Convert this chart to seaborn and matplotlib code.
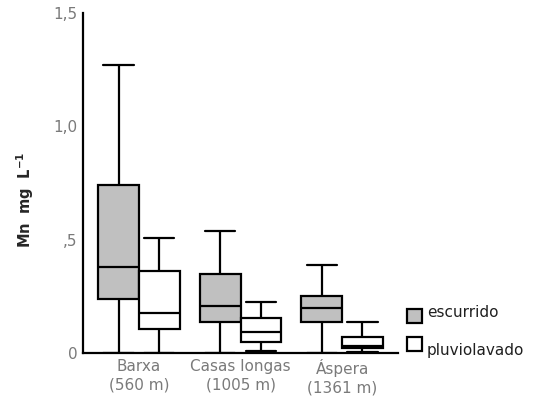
import numpy as np
import pandas as pd
import matplotlib
matplotlib.use("Agg")
import matplotlib.pyplot as plt
from matplotlib.transforms import Affine2D
import seaborn as sns

# sites along the x axis
sites = ["Barxa\n(560 m)", "Casas longas\n(1005 m)", "Áspera\n(1361 m)"]
series = ["escurrido", "pluviolavado"]

# five-number summaries: min, q1, median, q3, max
escurrido = [
    [0.0, 0.24, 0.38, 0.74, 1.27],
    [0.0, 0.137, 0.207, 0.35, 0.54],
    [0.0, 0.137, 0.198, 0.25, 0.39],
]
pluviolavado = [
    [0.0, 0.106, 0.177, 0.36, 0.507],
    [0.01, 0.048, 0.093, 0.154, 0.225],
    [0.005, 0.02, 0.03, 0.07, 0.137],
]

ytick_vals = [0, 0.5, 1.0, 1.5]
ytick_labels = ["0", ",5", "1,0", "1,5"]


def build_frame():
    rows = []
    for name, values in zip(series, [escurrido, pluviolavado]):
        for site, stats in zip(sites, values):
            for v in stats:
                rows.append({"site": site, "tipo": name, "Mn": v})
    return pd.DataFrame(rows)


def plot_boxes(df):
    sns.set_style("white")
    fig = plt.figure(figsize=(5.47, 3.96), dpi=100)
    ax = fig.add_axes([0.1517, 0.1086, 0.576, 0.8586])

    sns.boxplot(data=df, x="site", y="Mn", hue="tipo", order=sites,
                hue_order=series, palette={"escurrido": "#c0c0c0", "pluviolavado": "white"},
                saturation=1, width=0.8, gap=0, whis=(0, 100), linecolor="black",
                linewidth=1.6, capwidths=0.3, ax=ax)

    ax.set_xlim(-0.55, 2.55)
    ax.set_ylim(0, 1.5)
    ax.set_yticks(ytick_vals)
    ax.set_yticklabels(ytick_labels)
    ax.set_xlabel("")
    ax.set_ylabel(r"$\mathbf{Mn\ \ mg\ \ L^{-1}}$", fontsize=10.5)
    ax.yaxis.set_label_coords(-0.148, 0.45)

    for side in ["top", "right"]:
        ax.spines[side].set_visible(False)
    for side in ["left", "bottom"]:
        ax.spines[side].set_color("black")
        ax.spines[side].set_linewidth(1.6)

    ax.tick_params(axis="both", which="both", direction="out", length=3,
                   width=1.2, color="black", labelcolor="#7a7a7a", labelsize=11)
    ax.tick_params(axis="y", pad=1)
    ax.tick_params(axis="x", pad=1.5)
    for lab in ax.get_xticklabels():
        lab.set_linespacing(1.25)

    handles, labels = ax.get_legend_handles_labels()
    leg = ax.legend(handles, labels, loc="lower left", bbox_to_anchor=(1.0, -0.025),
                    frameon=False, handlelength=1.0, handleheight=1.0,
                    handletextpad=0.3, labelspacing=0.85, fontsize=11, borderaxespad=0.2)
    # texts sit a little off their squares in the original
    for txt, dy in zip(leg.get_texts(), [4, -6]):
        txt.set_color("#202020")
        txt.set_transform(txt.get_transform() + Affine2D().translate(0, dy))

    fig.savefig("out.png", dpi=100)
    plt.close(fig)


if __name__ == "__main__":
    plot_boxes(build_frame())
